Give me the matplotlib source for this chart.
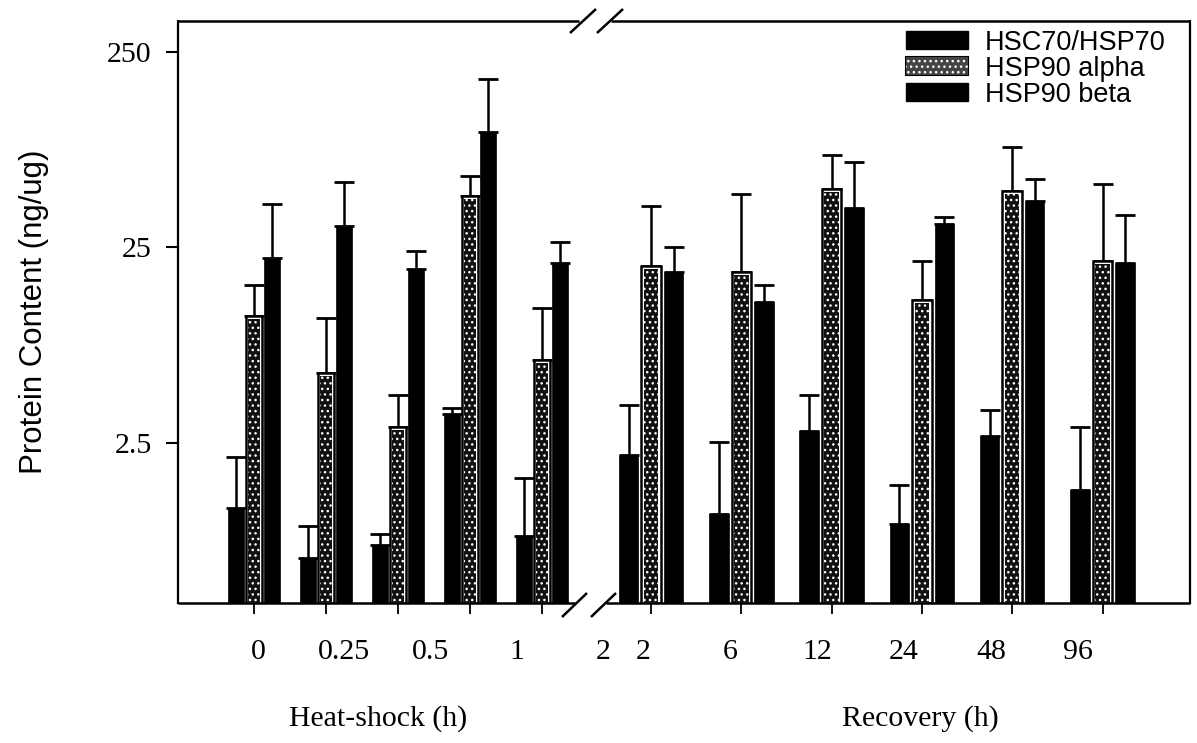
import numpy as np
import matplotlib
matplotlib.use('agg')
import matplotlib.pyplot as plt
from matplotlib.patches import Patch
from matplotlib.legend_handler import HandlerTuple

# time points
heat_labels = ['0', '0.25', '0.5', '1', '2']
recovery_labels = ['2', '6', '12', '24', '48', '96']

# protein content (ng/ug), heat-shock then recovery
hsc70 = [1.16, 0.64, 0.75, 3.52, 0.83, 2.17, 1.08, 2.88, 0.96, 2.71, 1.43]
hsc70_err = [0.96, 0.30, 0.10, 0.26, 0.81, 1.74, 1.45, 1.53, 0.56, 0.98, 1.59]
hsp90a = [11.1, 5.71, 3.02, 45.7, 6.65, 20.0, 18.6, 49.6, 13.4, 48.5, 21.4]
hsp90a_err = [5.0, 5.1, 1.39, 12.1, 5.65, 20.6, 28.1, 24.5, 7.8, 33.0, 31.2]
hsp90b = [22.0, 32.1, 19.3, 97.2, 20.9, 18.6, 13.2, 39.6, 32.8, 43.0, 20.9]
hsp90b_err = [19.6, 21.8, 4.6, 85.0, 5.6, 6.4, 2.9, 28.6, 2.8, 12.8, 15.6]

series_names = ['HSC70/HSP70', 'HSP90 alpha', 'HSP90 beta']

W, H = 1197, 743
fig = plt.figure(figsize=(W / 100, H / 100), dpi=100)
ax_l, ax_r, ax_t, ax_b = 178, 1190, 21, 603
ax = fig.add_axes([ax_l / W, 1 - ax_b / H, (ax_r - ax_l) / W, (ax_b - ax_t) / H])

ymin, ymax = 0.378, 360
ax.set_yscale('log')
ax.set_ylim(ymin, ymax)
ax.set_xlim(0, ax_r - ax_l)

# group centres in axis pixels: two panels with their own spacing
n_heat = len(heat_labels)
n_rec = len(recovery_labels)
centers = np.concatenate([76 + 72.0 * np.arange(n_heat),
                          473 + 90.3 * np.arange(n_rec)])
bar_w = np.array([16.5] * n_heat + [19.5] * n_rec)
step = np.array([18.0] * n_heat + [22.5] * n_rec)

means = [np.array(hsc70), np.array(hsp90a), np.array(hsp90b)]
errs = [np.array(hsc70_err), np.array(hsp90a_err), np.array(hsp90b_err)]

for k in range(3):
    x = centers + (k - 1) * step
    y = means[k]
    if k == 1:
        ax.bar(x, y - ymin, bottom=ymin, width=bar_w, color='white',
               edgecolor='black', linewidth=1.8, zorder=2)
        ax.bar(x, y * 0.965 - ymin, bottom=ymin, width=bar_w - 5,
               color='#111111', edgecolor='white', hatch='...',
               linewidth=0, zorder=3)
    else:
        ax.bar(x, y - ymin, bottom=ymin, width=bar_w, color='black',
               edgecolor='black', linewidth=0.5, zorder=2)
    ax.errorbar(x, y, yerr=[np.zeros_like(y), errs[k]], fmt='none',
                ecolor='black', elinewidth=1.8, capsize=7, capthick=2,
                zorder=1)

# frame with axis breaks
for s in ['top', 'bottom']:
    ax.spines[s].set_visible(False)
ax.spines['left'].set_linewidth(1.6)
ax.spines['right'].set_linewidth(1.6)

tr = ax.transAxes
aw = ax_r - ax_l
def px(xp):
    return (xp - ax_l) / aw

ah = ax_b - ax_t
def py(dy):
    return dy / ah

lk = dict(color='black', lw=1.8, transform=tr, clip_on=False, solid_capstyle='butt')
ax.plot([0, px(579)], [1, 1], **lk)
ax.plot([px(611), 1], [1, 1], **lk)
ax.plot([0, px(575)], [0, 0], **lk)
ax.plot([px(606), 1], [0, 0], **lk)
for x0 in (583, 610):
    ax.plot([px(x0 - 13), px(x0 + 13)], [1 - py(12), 1 + py(12)], **lk)
for x0 in (574, 603):
    ax.plot([px(x0 - 12), px(x0 + 13)], [-py(14), py(10)], **lk)

ax.set_yticks([2.5, 25, 250])
ax.set_yticklabels(['2.5', '25', '250'], family='Liberation Serif', fontsize=21.5)
ax.yaxis.set_minor_locator(matplotlib.ticker.NullLocator())
ax.tick_params(axis='y', direction='out', length=9, width=1.5, pad=10)

ax.set_xticks(centers)
ax.set_xticklabels([])
ax.tick_params(axis='x', direction='out', length=8, width=1.3)

ax.set_ylabel('Protein Content (ng/ug)', family='Liberation Sans', fontsize=22.5,
              labelpad=42)

# category labels under each panel
for i, lab in enumerate(heat_labels):
    fig.text((258 + 86.3 * i) / W, 1 - 652 / H, lab, ha='center', va='center',
             family='Liberation Serif', fontsize=21.5)
for i, lab in enumerate(recovery_labels):
    fig.text((643 + 87.0 * i) / W, 1 - 652 / H, lab, ha='center', va='center',
             family='Liberation Serif', fontsize=21.5)
fig.text(378 / W, 1 - 719 / H, 'Heat-shock (h)', ha='center', va='center',
         family='Liberation Serif', fontsize=21.5)
fig.text(920 / W, 1 - 719 / H, 'Recovery (h)', ha='center', va='center',
         family='Liberation Serif', fontsize=21.5)

handles = [
    Patch(facecolor='black', edgecolor='black'),
    (Patch(facecolor='white', edgecolor='black', linewidth=1.5),
     Patch(facecolor='#444444', edgecolor='white', hatch='...', linewidth=0)),
    Patch(facecolor='black', edgecolor='black'),
]
ax.legend(handles, series_names, loc='upper right',
          bbox_to_anchor=(1179 / W, 1 - 16 / H), bbox_transform=fig.transFigure,
          frameon=False, prop={'family': 'Liberation Sans', 'size': 19.5},
          handlelength=2.3, handleheight=0.6, handletextpad=0.6,
          labelspacing=0.0, borderpad=0,
          handler_map={tuple: HandlerTuple(ndivide=1, pad=0)})

fig.savefig('out.png', dpi=100)
